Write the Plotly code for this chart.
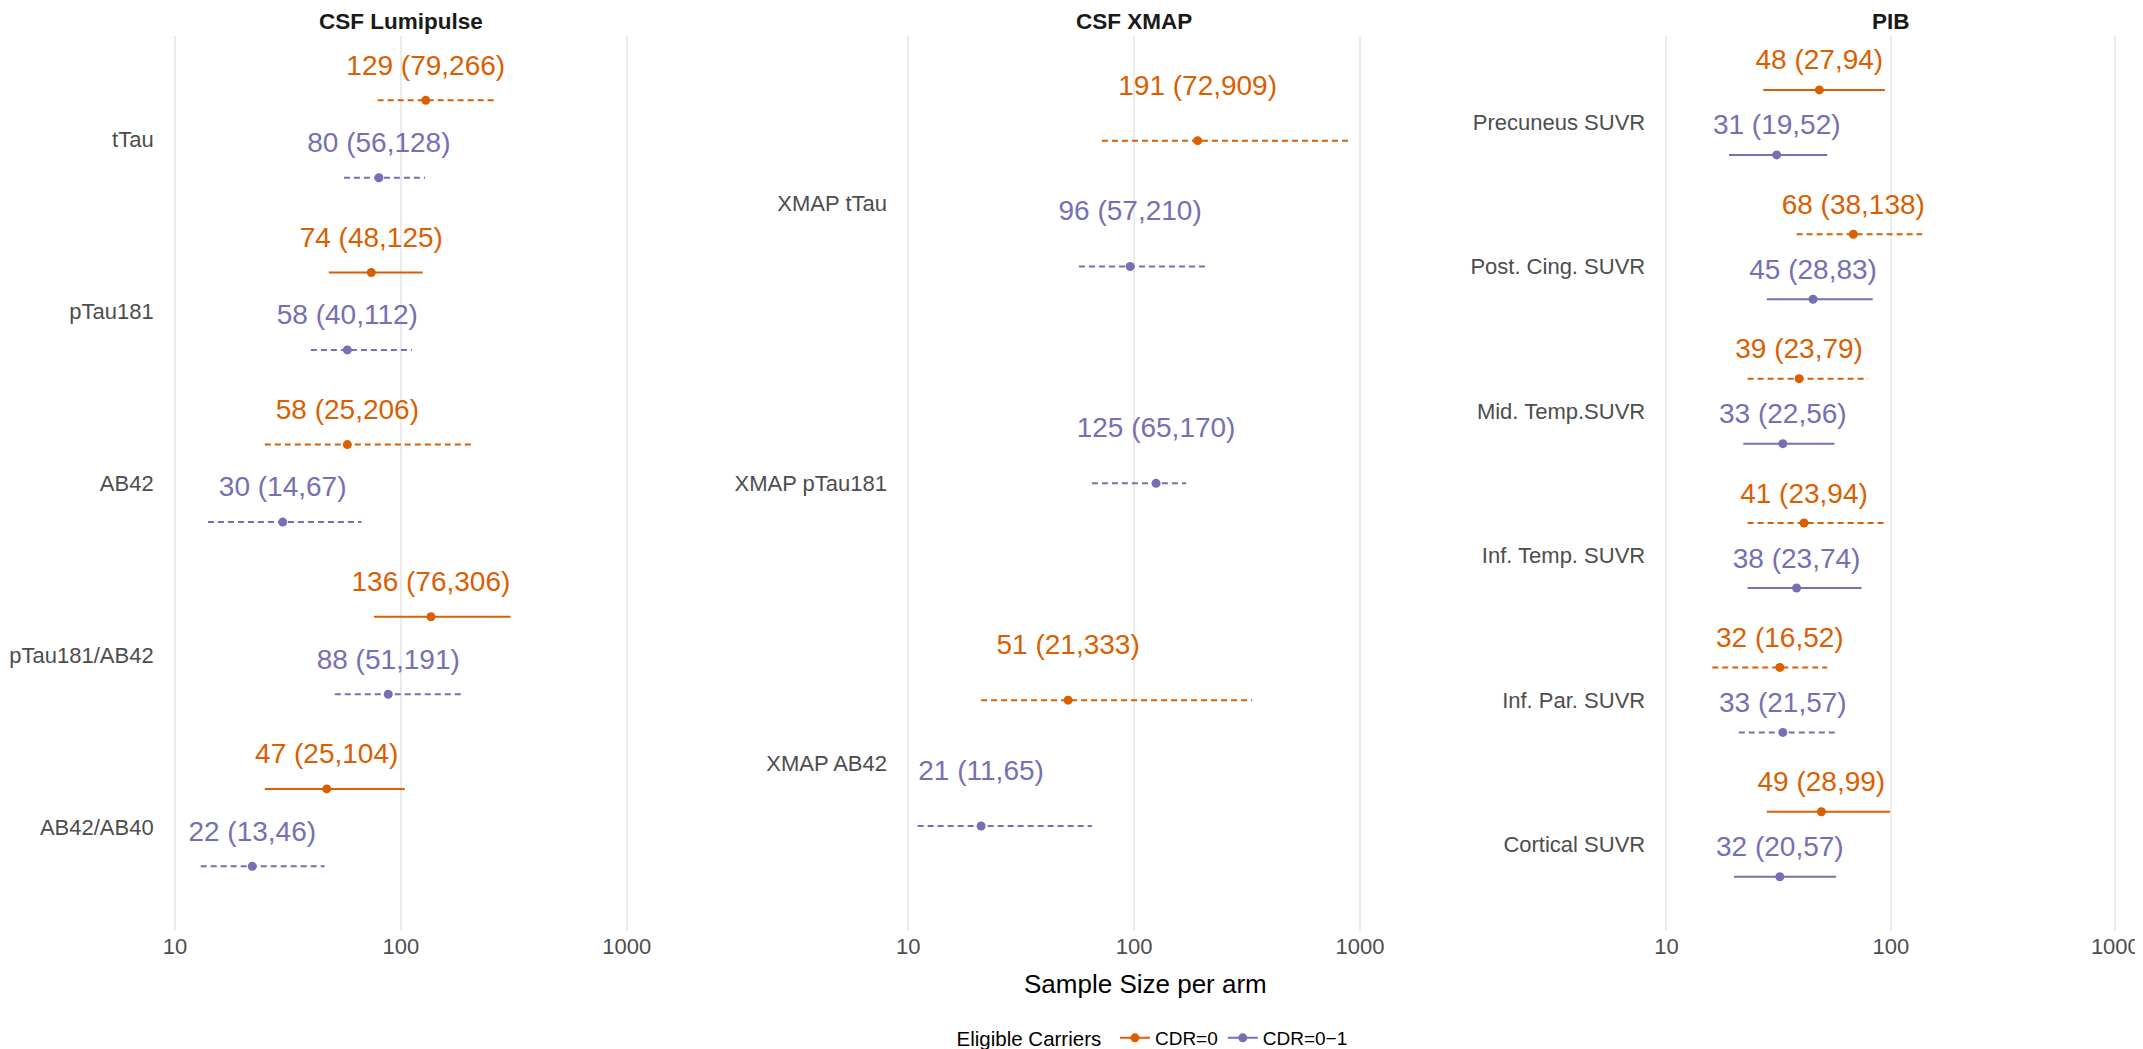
import math
import plotly.graph_objects as go

# ---------------- data ----------------
panel_titles = ["CSF Lumipulse", "CSF XMAP", "PIB"]

lumi_markers = ["tTau", "pTau181", "AB42", "pTau181/AB42", "AB42/AB40"]
lumi_cdr0_est = [129, 74, 58, 136, 47]
lumi_cdr0_lo = [79, 48, 25, 76, 25]
lumi_cdr0_hi = [266, 125, 206, 306, 104]
lumi_cdr0_sig = [False, True, False, True, True]
lumi_cdr01_est = [80, 58, 30, 88, 22]
lumi_cdr01_lo = [56, 40, 14, 51, 13]
lumi_cdr01_hi = [128, 112, 67, 191, 46]
lumi_cdr01_sig = [False, False, False, False, False]

xmap_markers = ["XMAP tTau", "XMAP pTau181", "XMAP AB42"]
xmap_cdr0_est = [191, None, 51]
xmap_cdr0_lo = [72, None, 21]
xmap_cdr0_hi = [909, None, 333]
xmap_cdr0_sig = [False, None, False]
xmap_cdr01_est = [96, 125, 21]
xmap_cdr01_lo = [57, 65, 11]
xmap_cdr01_hi = [210, 170, 65]
xmap_cdr01_sig = [False, False, False]

pib_markers = ["Precuneus SUVR", "Post. Cing. SUVR", "Mid. Temp.SUVR",
               "Inf. Temp. SUVR", "Inf. Par. SUVR", "Cortical SUVR"]
pib_cdr0_est = [48, 68, 39, 41, 32, 49]
pib_cdr0_lo = [27, 38, 23, 23, 16, 28]
pib_cdr0_hi = [94, 138, 79, 94, 52, 99]
pib_cdr0_sig = [True, False, False, False, False, True]
pib_cdr01_est = [31, 45, 33, 38, 33, 32]
pib_cdr01_lo = [19, 28, 22, 23, 21, 20]
pib_cdr01_hi = [52, 83, 56, 74, 57, 57]
pib_cdr01_sig = [True, True, True, True, False, True]

series_names = ["CDR=0", "CDR=0\u22121"]
series_colors = ["#D95F02", "#7570B3"]

panels = [
    (lumi_markers,
     [(lumi_cdr0_est, lumi_cdr0_lo, lumi_cdr0_hi, lumi_cdr0_sig),
      (lumi_cdr01_est, lumi_cdr01_lo, lumi_cdr01_hi, lumi_cdr01_sig)]),
    (xmap_markers,
     [(xmap_cdr0_est, xmap_cdr0_lo, xmap_cdr0_hi, xmap_cdr0_sig),
      (xmap_cdr01_est, xmap_cdr01_lo, xmap_cdr01_hi, xmap_cdr01_sig)]),
    (pib_markers,
     [(pib_cdr0_est, pib_cdr0_lo, pib_cdr0_hi, pib_cdr0_sig),
      (pib_cdr01_est, pib_cdr01_lo, pib_cdr01_hi, pib_cdr01_sig)]),
]

# ---------------- layout geometry ----------------
W, H = 2143, 1049
FONT = "Liberation Sans, Arial, Helvetica, sans-serif"
panel_px = [(155.5, 634.5), (893, 1372), (1655.5, 2131.5)]
panel_top, panel_bottom = 28, 930
DODGE = 0.225
TEXT_OFF = 0.19

all_lo = [v for _, ser in panels for s in ser for v in s[1] if v is not None]
all_hi = [v for _, ser in panels for s in ser for v in s[2] if v is not None]
lmin, lmax = math.log10(min(all_lo)), math.log10(max(all_hi))
pad = (lmax - lmin) * 0.05
xrange = [lmin - pad, lmax + pad]

fig = go.Figure()

for p, (cats, series) in enumerate(panels):
    ax = "" if p == 0 else str(p + 1)
    xref, yref = "x" + ax, "y" + ax
    n = len(cats)
    for s, (est, lo, hi, sig) in enumerate(series):
        other = series[1 - s][0]
        ys, xs, texts = [], [], []
        seg = {True: ([], []), False: ([], [])}
        for i in range(n):
            if est[i] is None:
                continue
            if other[i] is None:
                y = i
            else:
                y = i - DODGE if s == 0 else i + DODGE
            ys.append(y)
            xs.append(est[i])
            texts.append(f"{est[i]} ({lo[i]},{hi[i]})")
            sx, sy = seg[sig[i]]
            sx += [lo[i], hi[i], None]
            sy += [y, y, None]
        for solid, (sx, sy) in seg.items():
            if not sx:
                continue
            fig.add_trace(go.Scatter(
                x=sx, y=sy, mode="lines", xaxis=xref, yaxis=yref,
                line=dict(color=series_colors[s], width=2,
                          dash="solid" if solid else "6px,4px"),
                showlegend=False, hoverinfo="skip"))
        fig.add_trace(go.Scatter(
            x=xs, y=ys, mode="markers", xaxis=xref, yaxis=yref,
            marker=dict(color=series_colors[s], size=9),
            showlegend=False, hoverinfo="skip"))
        fig.add_trace(go.Scatter(
            x=xs, y=[v - TEXT_OFF for v in ys], mode="text", xaxis=xref, yaxis=yref,
            text=texts, textposition="middle center",
            textfont=dict(family=FONT, size=28, color=series_colors[s]),
            showlegend=False, hoverinfo="skip", cliponaxis=False))

    x0, x1 = panel_px[p]
    fig.layout["xaxis" + ax] = dict(
        domain=[x0 / W, x1 / W], type="log", range=xrange,
        anchor=yref, tickvals=[10, 100, 1000], ticktext=["10", "100", "1000"],
        showgrid=True, gridcolor="#EBEBEB", gridwidth=1.6, zeroline=False,
        showline=False, ticks="", ticklabelstandoff=0,
        tickfont=dict(family=FONT, size=22, color="#4D4D4D"))
    fig.layout["yaxis" + ax] = dict(
        domain=[(H - panel_bottom) / H, (H - panel_top) / H],
        range=[n - 1 + 0.6, -0.6], anchor=xref,
        tickvals=list(range(n)), ticktext=cats,
        showgrid=False, zeroline=False, showline=False, ticks="",
        ticklabelstandoff=8,
        tickfont=dict(family=FONT, size=22, color="#4D4D4D"))
    fig.add_annotation(
        x=(x0 + x1) / 2 / W, y=1, xref="paper", yref="paper",
        text="<b>" + panel_titles[p] + "</b>", showarrow=False,
        xanchor="center", yanchor="top", borderpad=0,
        font=dict(family=FONT, size=22.5, color="#1A1A1A"))

# legend entries
for s in range(2):
    fig.add_trace(go.Scatter(
        x=[None], y=[None], mode="lines+markers", name=series_names[s],
        line=dict(color=series_colors[s], width=2),
        marker=dict(color=series_colors[s], size=9), showlegend=True))

# x-axis title spanning all panels
fig.add_annotation(
    x=(panel_px[0][0] + panel_px[2][1]) / 2 / W, y=(H - 984) / H,
    xref="paper", yref="paper", text="Sample Size per arm", showarrow=False,
    xanchor="center", yanchor="middle",
    font=dict(family=FONT, size=26, color="#000000"))

fig.update_layout(
    width=W, height=H, autosize=False,
    margin=dict(l=0, r=0, t=0, b=0),
    paper_bgcolor="white", plot_bgcolor="white",
    font=dict(family=FONT),
    legend=dict(
        orientation="h", x=1152 / W, xanchor="center",
        y=(H - 1038) / H, yanchor="middle",
        title=dict(text="Eligible Carriers ", side="left",
                   font=dict(family=FONT, size=20.5, color="#000000")),
        font=dict(family=FONT, size=19, color="#000000"),
        itemwidth=30, bgcolor="rgba(0,0,0,0)"),
)

fig.write_html("out.html")
